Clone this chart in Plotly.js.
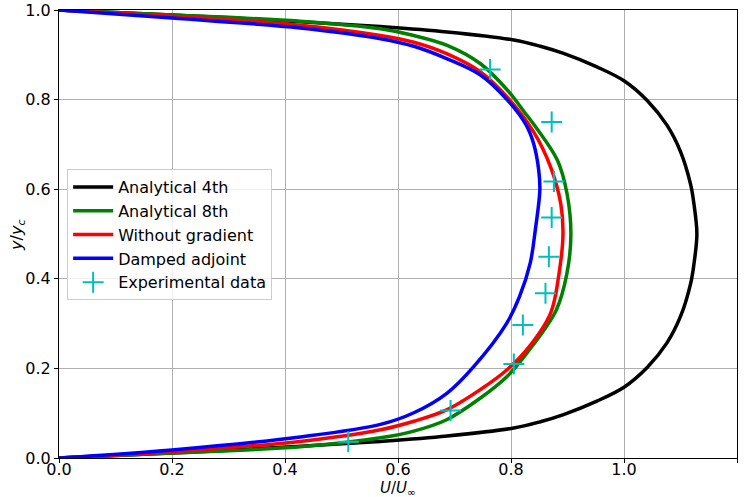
<!DOCTYPE html>
<html>
<head>
<meta charset="utf-8">
<script src="https://cdn.plot.ly/plotly-3.0.1.min.js"></script>
<style>html,body{margin:0;padding:0;background:#fff}#chart{width:749px;height:497px}</style>
</head>
<body>
<div id="chart"></div>
<script>
// Analytical 4th
const a4_y = [0, 0.011, 0.026, 0.037, 0.049, 0.067, 0.081, 0.097, 0.127, 0.158, 0.202, 0.257, 0.316, 0.390, 0.435, 0.5, 0.565, 0.610, 0.684, 0.743, 0.798, 0.842, 0.873, 0.903, 0.919, 0.933, 0.951, 0.963, 0.974, 0.989, 1.0];
const a4_u = [0, 0.2, 0.427, 0.569, 0.687, 0.805, 0.852, 0.893, 0.952, 1.0, 1.041, 1.076, 1.100, 1.118, 1.124, 1.129, 1.124, 1.118, 1.100, 1.076, 1.041, 1.0, 0.952, 0.893, 0.852, 0.805, 0.687, 0.569, 0.427, 0.2, 0];
// Analytical 8th
const a8_y = [0, 0.011, 0.025, 0.045, 0.060, 0.086, 0.134, 0.182, 0.234, 0.330, 0.412, 0.5, 0.591, 0.665, 0.735, 0.765, 0.822, 0.880, 0.921, 0.943, 0.958, 0.975, 0.989, 1.0];
const a8_u = [0, 0.2, 0.427, 0.569, 0.628, 0.687, 0.746, 0.793, 0.828, 0.880, 0.899, 0.906, 0.899, 0.882, 0.846, 0.828, 0.793, 0.746, 0.687, 0.628, 0.569, 0.427, 0.2, 0];
// Without gradient
const wg_y = [0, 0.014, 0.037, 0.063, 0.082, 0.108, 0.153, 0.197, 0.242, 0.323, 0.412, 0.5, 0.568, 0.650, 0.728, 0.806, 0.862, 0.902, 0.928, 0.943, 0.966, 0.986, 1.0];
const wg_u = [0, 0.2, 0.427, 0.569, 0.628, 0.687, 0.746, 0.793, 0.828, 0.870, 0.885, 0.892, 0.888, 0.870, 0.840, 0.793, 0.746, 0.687, 0.628, 0.569, 0.427, 0.2, 0];
// Damped adjoint
const da_y = [0, 0.018, 0.047, 0.075, 0.101, 0.145, 0.204, 0.300, 0.360, 0.435, 0.509, 0.598, 0.643, 0.702, 0.745, 0.800, 0.855, 0.891, 0.919, 0.936, 0.960, 0.982, 1.0];
const da_u = [0, 0.2, 0.427, 0.569, 0.628, 0.687, 0.734, 0.792, 0.815, 0.834, 0.843, 0.851, 0.849, 0.840, 0.826, 0.793, 0.746, 0.687, 0.628, 0.569, 0.427, 0.2, 0];
// Experimental data
const ex_u = [0.512, 0.693, 0.805, 0.821, 0.861, 0.867, 0.872, 0.876, 0.872, 0.763];
const ex_y = [0.036, 0.106, 0.210, 0.297, 0.368, 0.449, 0.537, 0.617, 0.750, 0.867];

const xTicks = [0, 0.2, 0.4, 0.6, 0.8, 1.0, 1.2];
const yTicks = [0, 0.2, 0.4, 0.6, 0.8, 1.0];
const xTitle = '<i>U</i>/<i>U</i><sub>∞</sub>';
const yTitle = '<i>y</i>/<i>y</i><sub><i>c</i></sub>';

const lw = 3.5;
function line(x, y, name, color) {
  return {x: x, y: y, name: name, type: 'scatter', mode: 'lines',
    line: {color: color, width: lw, shape: 'spline', smoothing: 1}};
}
const data = [
  line(a4_u, a4_y, 'Analytical 4th', '#000000'),
  line(a8_u, a8_y, 'Analytical 8th', '#008000'),
  line(wg_u, wg_y, 'Without gradient', '#ff0000'),
  line(da_u, da_y, 'Damped adjoint', '#0000ff'),
  {x: ex_u, y: ex_y, name: 'Experimental data', type: 'scatter', mode: 'markers',
   marker: {symbol: 'cross-thin', size: 15, color: '#00bfbf', line: {color: '#00bfbf', width: 2}}}
];
const axisCommon = {
  showline: true, linecolor: '#000', linewidth: 1, mirror: true,
  ticks: 'outside', ticklen: 4, tickcolor: '#000', tickwidth: 1,
  showgrid: true, gridcolor: '#b0b0b0', gridwidth: 1, zeroline: false,
  tickfont: {family: 'DejaVu Sans', size: 16, color: '#000'},
  tickformat: '.1f'
};
const layout = {
  width: 749, height: 497,
  margin: {l: 59, r: 12, t: 10, b: 39},
  paper_bgcolor: '#fff', plot_bgcolor: '#fff',
  font: {family: 'DejaVu Sans', color: '#000'},
  xaxis: Object.assign({}, axisCommon, {range: [0, 1.2], tickvals: xTicks, ticklabelstandoff: -7}),
  yaxis: Object.assign({}, axisCommon, {range: [0, 1.0], tickvals: yTicks}),
  annotations: [
    {text: xTitle, xref: 'paper', yref: 'paper', x: 0.5, y: -0.068, xanchor: 'center', yanchor: 'middle',
     showarrow: false, font: {family: 'DejaVu Sans', size: 15, color: '#000'}},
    {text: yTitle, xref: 'paper', yref: 'paper', x: -0.0605, y: 0.498, xanchor: 'center', yanchor: 'middle',
     textangle: -90, showarrow: false, font: {family: 'DejaVu Sans', size: 16, color: '#000'}}
  ],
  showlegend: true,
  legend: {x: 0.012, y: 0.645, xanchor: 'left', yanchor: 'top', itemwidth: 40,
    bgcolor: 'rgba(255,255,255,0.8)', bordercolor: '#cccccc', borderwidth: 1,
    font: {family: 'DejaVu Sans', size: 16, color: '#000'}}
};
Plotly.newPlot('chart', data, layout, {displayModeBar: false, staticPlot: true});
</script>
</body>
</html>
